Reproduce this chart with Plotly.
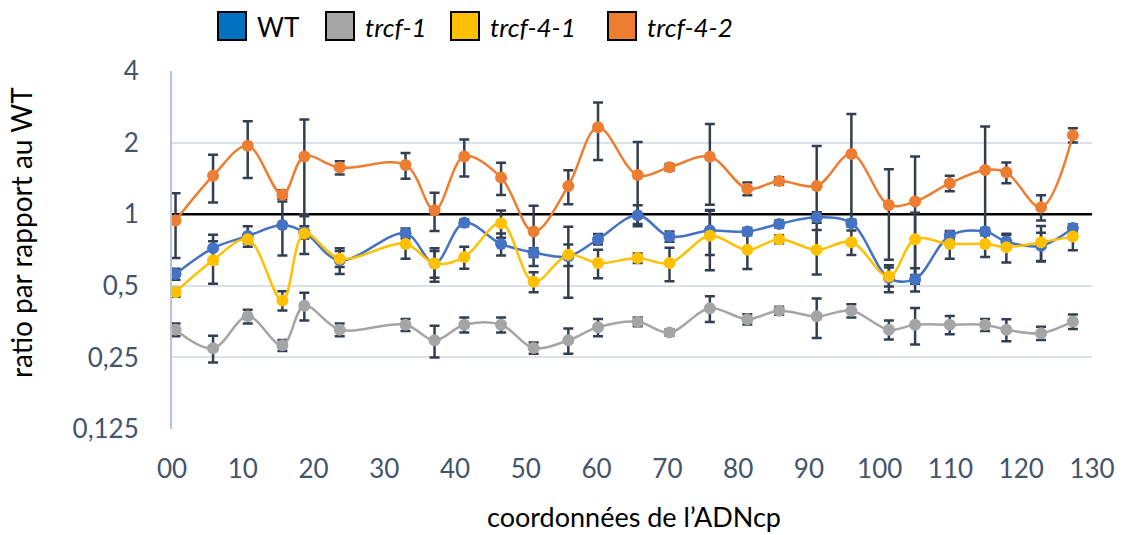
import math
import plotly.graph_objects as go

# Positions along the chloroplast genome (kb)
coords = [0.5, 5.8, 10.7, 15.6, 18.7, 23.7, 33.0, 37.1, 41.3, 46.5, 51.1, 56.0, 60.2, 65.8,
          70.3, 76.0, 81.3, 85.8, 91.1, 96.0, 101.3, 105.0, 109.9, 114.9, 117.9, 122.8, 127.3]

wt = [0.56, 0.72, 0.81, 0.90, 0.84, 0.64, 0.83, 0.62, 0.92, 0.75, 0.69, 0.665, 0.785, 0.99,
      0.805, 0.854, 0.845, 0.91, 0.97, 0.917, 0.54, 0.533, 0.811, 0.845, 0.767, 0.736, 0.874]
wt_err = [0.03, 0.10, 0.08, 0.23, 0.05, 0.08, 0.04, 0.10, 0.03, 0.08, 0.03, 0.22, 0.04, 0.10,
          0.04, 0.18, 0.03, 0.03, 0.05, 0.03, 0.07, 0.06, 0.03, 0.03, 0.05, 0.10, 0.03]

trcf1 = [0.327, 0.273, 0.372, 0.281, 0.412, 0.327, 0.343, 0.295, 0.343, 0.343, 0.274, 0.295, 0.335, 0.353,
         0.318, 0.402, 0.362, 0.393, 0.372, 0.393, 0.327, 0.343, 0.343, 0.343, 0.327, 0.316, 0.354]
trcf1_err = [0.02, 0.035, 0.025, 0.015, 0.055, 0.02, 0.02, 0.045, 0.025, 0.025, 0.015, 0.036, 0.028, 0.015,
             0.01, 0.05, 0.018, 0.015, 0.07, 0.025, 0.03, 0.06, 0.03, 0.02, 0.035, 0.02, 0.025]

trcf41 = [0.47, 0.64, 0.785, 0.434, 0.83, 0.65, 0.75, 0.62, 0.66, 0.917, 0.52, 0.675, 0.623, 0.654,
          0.623, 0.811, 0.708, 0.785, 0.708, 0.763, 0.547, 0.785, 0.75, 0.75, 0.727, 0.763, 0.805]
trcf41_err = [0.02, 0.13, 0.03, 0.04, 0.15, 0.05, 0.10, 0.08, 0.07, 0.12, 0.05, 0.07, 0.085, 0.03,
              0.10, 0.23, 0.12, 0.03, 0.15, 0.09, 0.05, 0.23, 0.10, 0.09, 0.10, 0.13, 0.10]

trcf42 = [0.94, 1.45, 1.94, 1.21, 1.75, 1.57, 1.61, 1.04, 1.75, 1.425, 0.845, 1.315, 2.32, 1.46,
          1.575, 1.745, 1.28, 1.38, 1.315, 1.79, 1.094, 1.13, 1.35, 1.535, 1.5, 1.07, 2.15]
trcf42_err = [0.285, 0.33, 0.52, 0.05, 0.75, 0.10, 0.20, 0.19, 0.31, 0.22, 0.24, 0.215, 0.63, 0.55,
              0.05, 0.65, 0.08, 0.05, 0.62, 0.85, 0.45, 0.62, 0.10, 0.80, 0.15, 0.13, 0.15]

series_names = ["WT", "trcf-1", "trcf-4-1", "trcf-4-2"]
italic_names = [False, True, True, True]
line_colors = ["#4472C4", "#A5A5A5", "#FFC000", "#ED7D31"]
legend_colors = ["#0070C0", "#A5A5A5", "#FFC000", "#ED7D31"]

x_range = [0, 130]
x_ticks = list(range(0, 131, 10))
x_ticktext = ["00"] + [str(v) for v in x_ticks[1:]]
y_ticks = [0.125, 0.25, 0.5, 1, 2, 4]
y_ticktext = ["0,125", "0,25", "0,5", "1", "2", "4"]
ref_level = 1

FONT = "Lato, 'Open Sans', sans-serif"
TICK_COLOR = "#44546A"
ERR_COLOR = "#333F50"

W, H = 1126, 535
L, R, T, B = 172, 1092, 71, 429
y_lo, y_hi = math.log10(y_ticks[0]), math.log10(y_ticks[-1])


def fx(p):
    return (p - L) / (R - L)


def fy(p):
    return (B - p) / (B - T)


fig = go.Figure()

# Reference level (ratio = 1) across the whole x range
fig.add_trace(go.Scatter(
    x=x_range, y=[ref_level, ref_level], mode="lines",
    line=dict(color="black", width=2.5), showlegend=False, hoverinfo="skip",
))

data = [(wt, wt_err), (trcf1, trcf1_err), (trcf41, trcf41_err), (trcf42, trcf42_err)]

# Error bars on the base axis; curves and markers on an overlaid axis above them
for (vals, errs), name in zip(data, series_names):
    fig.add_trace(go.Scatter(
        x=coords, y=vals, mode="markers", marker=dict(opacity=0, size=1),
        error_y=dict(type="data", array=errs, visible=True,
                     color=ERR_COLOR, thickness=2.5, width=5),
        showlegend=False, hoverinfo="skip",
    ))

for (vals, errs), name, col in zip(data, series_names, line_colors):
    fig.add_trace(go.Scatter(
        x=coords, y=vals, name=name, mode="lines+markers", yaxis="y2",
        line=dict(color=col, width=2.5, shape="spline", smoothing=1.0),
        marker=dict(color=col, size=12, symbol="circle"),
        showlegend=False,
    ))

# Legend drawn as boxes + labels
legend_boxes = [218, 326, 451, 608]
for bx, col, name, it in zip(legend_boxes, legend_colors, series_names, italic_names):
    fig.add_shape(type="rect", xref="paper", yref="paper",
                  x0=fx(bx), x1=fx(bx + 28), y0=fy(40), y1=fy(12),
                  fillcolor=col, line=dict(color="black", width=2))
    fig.add_annotation(xref="paper", yref="paper", x=fx(bx + 37), y=fy(27),
                       text=f"<i>{name}</i>" if it else name, showarrow=False,
                       xanchor="left", yanchor="middle",
                       font=dict(family=FONT, size=26, color="black"))

fig.add_annotation(xref="paper", yref="paper", x=fx(634), y=fy(516),
                   text="coordonnées de l’ADNcp", showarrow=False,
                   xanchor="center", yanchor="middle",
                   font=dict(family=FONT, size=27, color="black"))
fig.add_annotation(xref="paper", yref="paper", x=fx(21), y=fy(233),
                   text="ratio par rapport au WT", showarrow=False, textangle=-90,
                   xanchor="center", yanchor="middle",
                   font=dict(family=FONT, size=28, color="black"))

fig.update_xaxes(range=x_range, tickvals=x_ticks, ticktext=x_ticktext,
                 showgrid=False, zeroline=False, showline=False,
                 ticks="", ticklabelstandoff=22,
                 tickfont=dict(family=FONT, size=26, color=TICK_COLOR))

fig.update_layout(
    yaxis=dict(type="log", range=[y_lo, y_hi], tickvals=y_ticks, ticktext=y_ticktext,
               showgrid=True, gridcolor="#DCE1E9", gridwidth=1.5,
               showline=True, linecolor="#B8C4D6", linewidth=2,
               zeroline=False, ticks="", ticklabelstandoff=26,
               tickfont=dict(family=FONT, size=26, color=TICK_COLOR)),
    yaxis2=dict(type="log", range=[y_lo, y_hi], overlaying="y", side="left",
                showgrid=False, showline=False, zeroline=False,
                showticklabels=False, ticks=""),
    width=W, height=H, autosize=False,
    margin=dict(l=L, r=W - R, t=T, b=H - B),
    plot_bgcolor="white", paper_bgcolor="white",
    font=dict(family=FONT),
)

fig.write_html("out.html")
